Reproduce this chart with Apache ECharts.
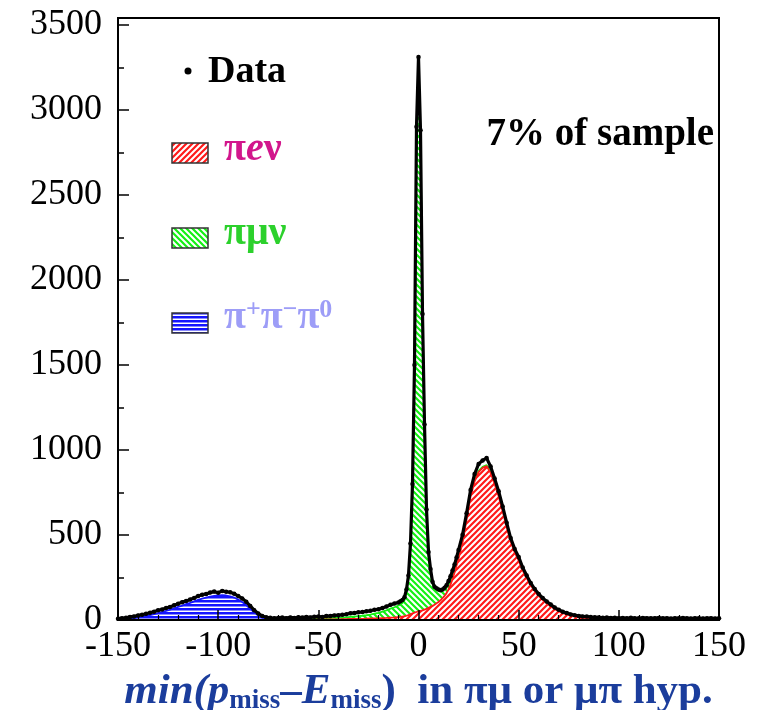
<!DOCTYPE html>
<html>
<head>
<meta charset="utf-8">
<script src="https://cdn.jsdelivr.net/npm/echarts@6/dist/echarts.min.js"></script>
<style>
  html, body { margin: 0; padding: 0; background: #fff; }
  #chart { width: 757px; height: 710px; }
</style>
</head>
<body>
<div id="chart"></div>
<script>
// Bin centres: 2-unit bins, 1-unit bins around the narrow peak
const xBins = [
  -150, -148, -146, -144, -142, -140, -138, -136, -134, -132,
  -130, -128, -126, -124, -122, -120, -118, -116, -114, -112,
  -110, -108, -106, -104, -102, -100, -98, -96, -94, -92,
  -90, -88, -86, -84, -82, -80, -78, -76, -74, -72,
  -70, -68, -66, -64, -62, -60, -58, -56, -54, -52,
  -50, -48, -46, -44, -42, -40, -38, -36, -34, -32,
  -30, -28, -26, -24, -22, -20, -18, -16, -14, -12,
  -10, -9, -8, -7, -6, -5, -4, -3, -2, -1,
  0, 1, 2, 3, 4, 5, 6, 7, 8, 9,
  10, 11, 12, 13, 14, 15, 16, 17, 18, 19,
  20,
  22, 24, 26, 28, 30, 32, 34, 36, 38, 40,
  42, 44, 46, 48, 50, 52, 54, 56, 58, 60,
  62, 64, 66, 68, 70, 72, 74, 76, 78, 80,
  82, 84, 86, 88, 90, 92, 94, 96, 98, 100,
  102, 104, 106, 108, 110, 112, 114, 116, 118, 120,
  122, 124, 126, 128, 130, 132, 134, 136, 138, 140,
  142, 144, 146, 148, 150
];

// Measured counts per bin
const dataCounts = [
  8, 11, 13, 18, 21, 27, 31, 37, 43, 49,
  57, 62, 71, 77, 87, 95, 105, 111, 121, 129,
  141, 149, 153, 161, 167, 160, 171, 166, 163, 155,
  141, 127, 107, 83, 58, 38, 24, 16, 13, 11,
  12, 14, 11, 15, 12, 16, 14, 17, 15, 19,
  20, 18, 23, 24, 27, 28, 31, 34, 40, 41,
  45, 47, 51, 54, 60, 63, 70, 79, 89, 97,
  103, 110, 117, 134, 180, 262, 450, 800, 1500, 2900,
  3310, 2880, 1800, 1150, 650, 400, 300, 225, 196, 186,
  179, 175, 179, 189, 205, 229, 257, 291, 326, 368,
  412,
  502, 628, 765, 858, 918, 938, 952, 903, 832, 757,
  668, 572, 482, 418, 371, 309, 262, 218, 182, 153,
  129, 109, 91, 73, 60, 49, 41, 33, 28, 24,
  21, 20, 17, 16, 15, 13, 14, 12, 13, 11,
  12, 10, 13, 11, 10, 12, 11, 10, 11, 12,
  10, 11, 9, 11, 10, 12, 10, 9, 11, 10,
  9, 10, 11, 9, 10
];

// pi e nu component (bottom of the stack)
const pevCounts = [
  0, 0, 0, 0, 0, 0, 0, 0, 0, 0,
  0, 0, 0, 0, 0, 0, 0, 0, 0, 0,
  0, 0, 0, 0, 0, 0, 0, 0, 0, 0,
  0, 0, 0, 0, 0, 0, 0, 0, 0, 0,
  0, 0, 0, 0, 0, 1, 1, 2, 2, 2,
  3, 3, 3, 4, 4, 4, 5, 5, 6, 6,
  7, 7, 8, 9, 10, 10, 11, 12, 14, 15,
  17, 18, 20, 22, 25, 29, 34, 39, 43, 47,
  51, 54, 57, 61, 65, 71, 77, 83, 90, 98,
  106, 116, 128, 142, 158, 180, 208, 242, 280, 320,
  362,
  455, 590, 728, 815, 870, 895, 905, 865, 800, 728,
  640, 548, 462, 398, 349, 292, 246, 205, 170, 142,
  118, 99, 81, 64, 51, 41, 33, 26, 21, 16,
  13, 11, 9, 7, 6, 5, 4, 3, 3, 2,
  2, 1, 1, 1, 1, 0, 0, 0, 0, 0,
  0, 0, 0, 0, 0, 0, 0, 0, 0, 0,
  0, 0, 0, 0, 0
];

// pi mu nu component (stacked on pi e nu)
const pmvCounts = [
  2, 2, 2, 2, 2, 2, 2, 2, 2, 2,
  2, 2, 2, 2, 2, 2, 2, 2, 2, 2,
  2, 2, 2, 2, 2, 2, 2, 2, 2, 2,
  2, 2, 2, 2, 2, 2, 2, 2, 2, 2,
  3, 3, 3, 4, 4, 4, 5, 5, 5, 6,
  6, 7, 7, 8, 8, 9, 10, 11, 13, 14,
  16, 18, 20, 23, 27, 32, 38, 45, 53, 60,
  68, 74, 80, 94, 136, 214, 400, 745, 1440, 2830,
  3235, 2805, 1720, 1070, 565, 310, 205, 128, 96, 80,
  66, 54, 44, 37, 31, 26, 22, 19, 17, 15,
  14,
  12, 10, 9, 8, 7, 6, 6, 5, 5, 4,
  4, 4, 3, 3, 3, 3, 2, 2, 2, 2,
  1, 1, 1, 1, 1, 1, 1, 1, 1, 1,
  1, 1, 1, 1, 1, 1, 1, 1, 1, 1,
  1, 1, 1, 1, 1, 1, 1, 1, 1, 1,
  1, 1, 1, 1, 1, 1, 1, 1, 1, 1,
  1, 1, 1, 1, 1
];

// pi+ pi- pi0 component, from the first bin up to -70
const p3Counts = [
  2, 3, 5, 8, 11, 15, 19, 24, 29, 35,
  41, 47, 54, 61, 69, 77, 85, 93, 101, 110,
  119, 126, 132, 138, 142, 144, 146, 144, 139, 132,
  120, 106, 88, 66, 45, 27, 14, 6, 2, 1,
  0
];

const yTickLabels = [0, 500, 1000, 1500, 2000, 2500, 3000, 3500];
const xTickLabels = [-150, -100, -50, 0, 50, 100, 150];

const SERIF = '"Liberation Serif", "DejaVu Serif", serif';
const RED = '#ff1a1a';
const GREEN = '#14f014';
const BLUE = '#1515ff';

// Hatch fill tiles
function hatch(color, kind) {
  const s = kind === 'h' ? 4 : 6;
  const c = document.createElement('canvas');
  c.width = s; c.height = s;
  const g = c.getContext('2d');
  g.fillStyle = '#fff';
  g.fillRect(0, 0, s, s);
  if (kind === 'h') {
    g.fillStyle = color;
    g.fillRect(0, 0, s, 2.5);
    return c;
  }
  g.strokeStyle = color;
  g.lineWidth = 2.2;
  g.beginPath();
  if (kind === '/') {
    g.moveTo(-1, s + 1); g.lineTo(s + 1, -1);
    g.moveTo(-1, 1); g.lineTo(1, -1);
    g.moveTo(s - 1, s + 1); g.lineTo(s + 1, s - 1);
  } else {
    g.moveTo(-1, -1); g.lineTo(s + 1, s + 1);
    g.moveTo(s - 1, -1); g.lineTo(s + 1, 1);
    g.moveTo(-1, s - 1); g.lineTo(1, s + 1);
  }
  g.stroke();
  return c;
}
const redHatch = { image: hatch(RED, '/'), repeat: 'repeat' };
const greenHatch = { image: hatch(GREEN, '\\'), repeat: 'repeat' };
const blueHatch = { image: hatch(BLUE, 'h'), repeat: 'repeat' };

const pts = arr => arr.map((v, i) => [xBins[i], v]);
const pmvStackTop = pmvCounts.map((v, i) => v + pevCounts[i]);

const chart = echarts.init(document.getElementById('chart'), null, { renderer: 'canvas' });

const tickLine = { color: '#000', width: 1.5 };

chart.setOption({
  animation: false,
  backgroundColor: '#fff',
  grid: {
    left: 118, right: 38, top: 18, bottom: 90,
    containLabel: false, outerBoundsMode: 'none',
    show: true, borderColor: '#000', borderWidth: 2,
    backgroundColor: 'transparent'
  },
  xAxis: {
    type: 'value', min: -150, max: 150, interval: 50,
    z: 10,
    axisLine: { onZero: false, lineStyle: { color: '#000', width: 2 } },
    axisTick: { inside: true, length: 10, lineStyle: tickLine },
    minorTick: { show: true, splitNumber: 5, length: 5, lineStyle: { color: '#000', width: 1.2 } },
    splitLine: { show: false },
    axisLabel: {
      color: '#000', fontFamily: SERIF, fontSize: 36, margin: 9,
      formatter: v => (xTickLabels.indexOf(v) >= 0 ? String(v) : '')
    },
    name: '{i|min(p}{s|miss}{n|–}{i|E}{s|miss}{n|)  in πμ or μπ hyp.}',
    nameLocation: 'middle',
    nameGap: 33,
    nameTextStyle: {
      color: '#1b3d9c', fontFamily: SERIF, fontWeight: 'bold', fontSize: 43,
      rich: {
        i: { color: '#1b3d9c', fontFamily: SERIF, fontWeight: 'bold', fontStyle: 'italic', fontSize: 43, lineHeight: 46 },
        n: { color: '#1b3d9c', fontFamily: SERIF, fontWeight: 'bold', fontSize: 43, lineHeight: 46 },
        s: { color: '#1b3d9c', fontFamily: SERIF, fontWeight: 'bold', fontSize: 27, lineHeight: 20, verticalAlign: 'bottom' }
      }
    }
  },
  yAxis: [
    {
      type: 'value', min: 0, max: 3540, interval: 250,
      z: 10,
      axisLine: { onZero: false, lineStyle: { color: '#000', width: 2 } },
      axisTick: { inside: true, length: 6, lineStyle: tickLine },
      splitLine: { show: false },
      axisLabel: {
        color: '#000', fontFamily: SERIF, fontSize: 36, margin: 16,
        formatter: v => (yTickLabels.indexOf(v) >= 0 ? String(v) : '')
      }
    },
    {
      type: 'value', min: 0, max: 3540, interval: 500, position: 'left',
      z: 10,
      axisLine: { show: false, onZero: false },
      axisTick: { inside: true, length: 11, lineStyle: tickLine },
      splitLine: { show: false },
      axisLabel: { show: false }
    }
  ],
  series: [
    {
      name: 'πμν', type: 'line', data: pts(pmvStackTop), z: 2,
      symbol: 'none', lineStyle: { color: GREEN, width: 1.8 },
      areaStyle: { color: greenHatch, opacity: 1 }
    },
    {
      name: 'πeν', type: 'line', data: pts(pevCounts), z: 3,
      symbol: 'none', lineStyle: { color: RED, width: 1.8 },
      areaStyle: { color: redHatch, opacity: 1 }
    },
    {
      name: 'π+π−π0', type: 'line', data: pts(p3Counts), z: 3,
      symbol: 'none', lineStyle: { color: BLUE, width: 1.8 },
      areaStyle: { color: blueHatch, opacity: 1 }
    },
    {
      name: 'Data', type: 'line', data: pts(dataCounts), z: 5,
      symbol: 'circle', symbolSize: 4.5, showSymbol: true,
      itemStyle: { color: '#000' },
      lineStyle: { color: '#000', width: 3.2 }
    }
  ],
  graphic: [
    { type: 'circle', shape: { cx: 188, cy: 71, r: 3.5 }, style: { fill: '#000' } },
    {
      type: 'text', x: 208, y: 72,
      style: { text: 'Data', fill: '#000', font: 'bold 38px ' + SERIF, textAlign: 'left', textVerticalAlign: 'middle' }
    },
    {
      type: 'text', x: 714, y: 135,
      style: { text: '7% of sample', fill: '#000', font: 'bold 39px ' + SERIF, textAlign: 'right', textVerticalAlign: 'middle' }
    },
    { type: 'rect', shape: { x: 172, y: 143, width: 36, height: 20 }, style: { fill: redHatch, stroke: '#333', lineWidth: 1.5 } },
    { type: 'rect', shape: { x: 172, y: 228, width: 36, height: 20 }, style: { fill: greenHatch, stroke: '#333', lineWidth: 1.5 } },
    { type: 'rect', shape: { x: 172, y: 313, width: 36, height: 20 }, style: { fill: blueHatch, stroke: '#333', lineWidth: 1.5 } },
    {
      type: 'text', x: 224, y: 150,
      style: {
        text: '{a|π}{b|e}{a|ν}', textAlign: 'left', textVerticalAlign: 'middle',
        rich: {
          a: { fill: '#d2168c', fontFamily: SERIF, fontWeight: 'bold', fontSize: 40 },
          b: { fill: '#d2168c', fontFamily: SERIF, fontWeight: 'bold', fontStyle: 'italic', fontSize: 40 }
        }
      }
    },
    {
      type: 'text', x: 224, y: 234,
      style: {
        text: '{a|πμν}', textAlign: 'left', textVerticalAlign: 'middle',
        rich: { a: { fill: '#2cd12c', fontFamily: SERIF, fontWeight: 'bold', fontSize: 40 } }
      }
    },
    {
      type: 'text', x: 224, y: 318,
      style: {
        text: '{a|π}{u|+}{a|π}{u|−}{a|π}{u|0}', textAlign: 'left', textVerticalAlign: 'middle',
        rich: {
          a: { fill: '#9d9df7', fontFamily: SERIF, fontWeight: 'bold', fontSize: 40, lineHeight: 42 },
          u: { fill: '#9d9df7', fontFamily: SERIF, fontWeight: 'bold', fontSize: 26, lineHeight: 22, verticalAlign: 'top' }
        }
      }
    }
  ]
});
</script>
</body>
</html>
